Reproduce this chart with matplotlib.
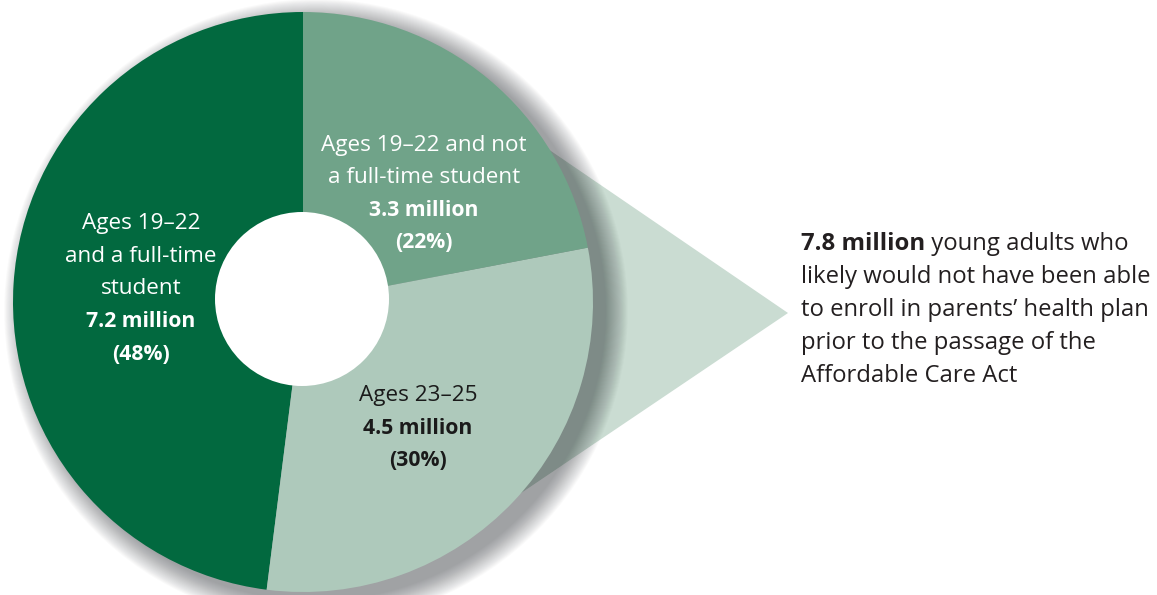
import matplotlib
matplotlib.use("Agg")
import matplotlib.pyplot as plt
from matplotlib.patches import Circle, Polygon

# young adults on parents' plans, by group (millions, share of 15.0 m)
groups = ["Ages 19\u201322\nand a full-time\nstudent", "Ages 23\u201325", "Ages 19\u201322 and not\na full-time student"]
millions = [7.2, 4.5, 3.3]
shares = [48, 30, 22]
colors = ["#02693f", "#aec9bb", "#70a389"]
text_colors = ["white", "#1a1a1a", "white"]
callout_lines = ["young adults who", "likely would not have been able",
                 "to enroll in parents\u2019 health plan", "prior to the passage of the",
                 "Affordable Care Act"]
callout_value = 7.8

W, H = 1157, 595
plt.rcParams['font.family'] = ['Open Sans', 'DejaVu Sans']

fig = plt.figure(figsize=(W / 100, H / 100), dpi=100)
ax = fig.add_axes([0, 0, 1, 1])

cx, cy, R, r_hole = 303, H - 302, 290, 87

# callout triangle behind the pie
tri = Polygon([(450, H - 82), (788, H - 313), (450, H - 541)], closed=True,
              facecolor="#cadcd2", edgecolor="none", zorder=1)
ax.add_patch(tri)

# soft drop shadow, mostly to the lower right
for i in range(24):
    ax.add_patch(Circle((cx + 13, cy - 9), R + i * 0.95, facecolor="#1c2026",
                        edgecolor="none", alpha=0.021, zorder=2))

wedges, _ = ax.pie(shares, colors=colors, startangle=90, counterclock=True,
                   radius=R, center=(cx, cy),
                   wedgeprops=dict(edgecolor="none", linewidth=0))
for w in wedges:
    w.set_zorder(3)
ax.add_patch(Circle((cx - 1, cy + 3), r_hole, facecolor="white", edgecolor="none", zorder=4))

ax.set_xlim(0, W)
ax.set_ylim(0, H)
ax.set_aspect('equal')
ax.axis('off')

fs = 16.2
fs_b = 15.2
step = 32.5
# label anchors (x, y of first line) per slice
anchors = [(141, 224), (418, 396), (424, 145)]
for g, m, s, tc, (lx, ly) in zip(groups, millions, shares, text_colors, anchors):
    y = ly
    for ln in g.split("\n"):
        ax.text(lx, H - y, ln, ha='center', va='center', fontsize=fs, color=tc, zorder=5)
        y += step
    ax.text(lx, H - y, f"{m} million", ha='center', va='center', fontsize=fs_b,
            color=tc, fontweight='bold', zorder=5)
    y += step
    ax.text(lx, H - y, f"({s}%)", ha='center', va='center', fontsize=fs_b,
            color=tc, fontweight='bold', zorder=5)

# right-hand callout text
tx, ty = 801, 244
fs_r = 17.2
fig.canvas.draw()
rend = fig.canvas.get_renderer()
b = ax.text(tx, H - ty, f"{callout_value} million", ha='left', va='center',
            fontsize=fs_r, fontweight='bold', color="#231f20")
bb = b.get_window_extent(renderer=rend)
x_after = ax.transData.inverted().transform((bb.x1, 0))[0]
ax.text(x_after, H - ty, " " + callout_lines[0], ha='left', va='center',
        fontsize=fs_r, color="#231f20")
for k, ln in enumerate(callout_lines[1:], start=1):
    ax.text(tx, H - (ty + k * 33), ln, ha='left', va='center', fontsize=fs_r, color="#231f20")

fig.savefig("out.png", dpi=100)
